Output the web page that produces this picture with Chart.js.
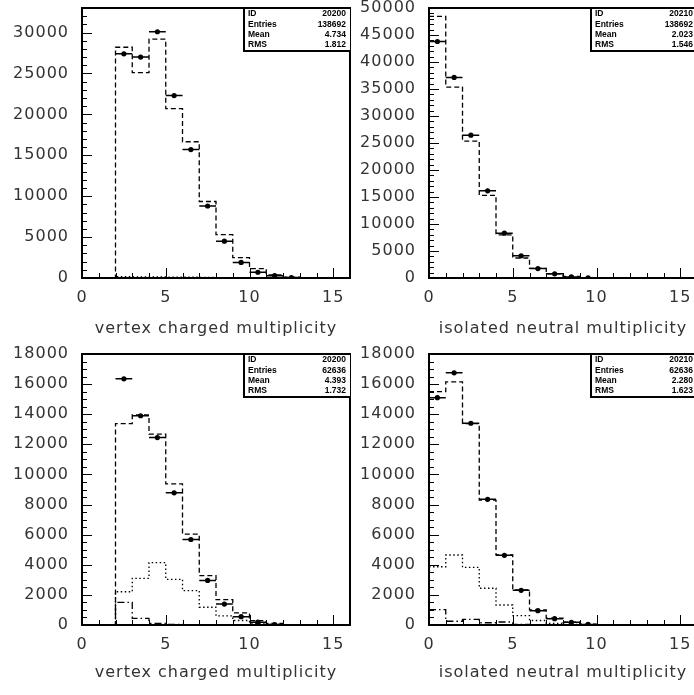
<!DOCTYPE html>
<html>
<head>
<meta charset="utf-8">
<script src="https://cdn.jsdelivr.net/npm/chart.js@4.4.1/dist/chart.umd.min.js"></script>
<style>
  html, body { margin: 0; padding: 0; background: #fff; overflow: hidden; }
  #wrap { position: relative; width: 694px; height: 695px; overflow: hidden; background: #fff; }
  canvas { position: absolute; }
</style>
</head>
<body>
<div id="wrap">
  <canvas id="tl" width="354" height="346" style="left:0;top:0"></canvas>
  <canvas id="tr" width="354" height="346" style="left:347px;top:0"></canvas>
  <canvas id="bl" width="354" height="349" style="left:0;top:346px"></canvas>
  <canvas id="br" width="354" height="349" style="left:347px;top:346px"></canvas>
</div>
<script>
// bin lower edges (bin width 1)
const binLow = [0, 1, 2, 3, 4, 5, 6, 7, 8, 9, 10, 11, 12, 13, 14, 15];
const xTicks = [0, 5, 10, 15];
const statLabels = ['ID', 'Entries', 'Mean', 'RMS'];

// top left: vertex charged multiplicity
const tlData = [0, 0, 27400, 27000, 30100, 22300, 15700, 8800, 4500, 1900, 700, 280, 60, 0, 0, 0];
const tlMC   = [0, 0, 28200, 25100, 29200, 20700, 16650, 9350, 5300, 2500, 1150, 370, 90, 20, 0, 0];
const tlBkg1 = [0, 0, 150, 140, 130, 110, 90, 60, 40, 20, 0, 0, 0, 0, 0, 0];
const tlTicks = [0, 5000, 10000, 15000, 20000, 25000, 30000];
const tlStats = ['20200', '138692', '4.734', '1.812'];

// top right: isolated neutral multiplicity
const trData = [43800, 37150, 26450, 16150, 8300, 4100, 1750, 780, 200, 50, 0, 0, 0, 0, 0, 0];
const trMC   = [48450, 35350, 25350, 15300, 8000, 3700, 1800, 780, 280, 60, 0, 0, 0, 0, 0, 0];
const trTicks = [0, 5000, 10000, 15000, 20000, 25000, 30000, 35000, 40000, 45000, 50000];
const trStats = ['20210', '138692', '2.023', '1.546'];

// bottom left: vertex charged multiplicity
const blData = [0, 0, 16350, 13900, 12450, 8780, 5680, 2960, 1390, 550, 190, 30, 0, 0, 0, 0];
const blMC   = [0, 0, 13370, 13950, 12680, 9380, 6030, 3280, 1680, 800, 290, 100, 20, 0, 0, 0];
const blBkg1 = [0, 0, 2210, 3100, 4140, 3030, 2280, 1180, 600, 300, 120, 40, 0, 0, 0, 0];
const blBkg2 = [0, 0, 1500, 445, 110, 40, 20, 0, 0, 0, 0, 0, 0, 0, 0, 0];
const bottomTicks = [0, 2000, 4000, 6000, 8000, 10000, 12000, 14000, 16000, 18000];
const blStats = ['20200', '62636', '4.393', '1.732'];

// bottom right: isolated neutral multiplicity
const brData = [15100, 16750, 13400, 8350, 4630, 2300, 950, 420, 180, 40, 0, 0, 0, 0, 0, 0];
const brMC   = [15500, 16150, 13380, 8300, 4650, 2330, 1000, 450, 190, 60, 20, 0, 0, 0, 0, 0];
const brBkg1 = [3870, 4650, 3830, 2440, 1330, 620, 300, 110, 40, 0, 0, 0, 0, 0, 0, 0];
const brBkg2 = [1020, 250, 370, 150, 200, 40, 20, 0, 0, 0, 0, 0, 0, 0, 0, 0];
const brStats = ['20210', '62636', '2.280', '1.623'];

const FONT = '"DejaVu Sans", sans-serif';
const INK = '#333';
const panels = {};

function stepPoints(vals) {
    const pts = vals.map((v, i) => ({ x: binLow[i], y: v }));
    pts.push({ x: binLow[vals.length - 1] + 1, y: vals[vals.length - 1] });
    return pts;
}

function histLine(vals, dash) {
    return {
        type: 'line',
        data: stepPoints(vals),
        stepped: true,
        borderColor: '#000',
        borderWidth: 1.3,
        borderDash: dash,
        pointRadius: 0,
        fill: false
    };
}

function dataSets(vals) {
    const bars = [];
    const dots = [];
    vals.forEach((v, i) => {
        if (v <= 0) return;
        bars.push({ x: binLow[i], y: v }, { x: binLow[i] + 1, y: v }, { x: binLow[i] + 0.5, y: null });
        dots.push({ x: binLow[i] + 0.5, y: v });
    });
    return [
        { type: 'scatter', data: dots, pointRadius: 2.6, pointBackgroundColor: '#000', pointBorderWidth: 0, showLine: false },
        { type: 'line', data: bars, borderColor: '#000', borderWidth: 1.5, pointRadius: 0, spanGaps: false }
    ];
}

// wider letter spacing, closer to the HIGZ font
const spacing = {
    id: 'spacing',
    beforeDraw(chart) { chart.ctx.letterSpacing = '1px'; }
};

// frame, inward ticks and the statistics box, HBOOK style
const hbookFrame = {
    id: 'hbookFrame',
    afterDraw(chart) {
        const cfg = panels[chart.canvas.id];
        const { ctx, chartArea: a } = chart;
        const x = chart.scales.x, y = chart.scales.y;
        ctx.save();
        ctx.setLineDash([]);
        ctx.letterSpacing = '0px';
        ctx.strokeStyle = '#000';
        ctx.lineWidth = 1;
        ctx.beginPath();
        for (let v = 1; v < 16; v++) {
            const px = Math.round(x.getPixelForValue(v)) + 0.5;
            const len = v % 5 === 0 ? 10 : 5;
            ctx.moveTo(px, a.bottom);
            ctx.lineTo(px, a.bottom - len);
        }
        const nMinor = Math.round(cfg.ymax / cfg.minor);
        const perMajor = Math.round(cfg.step / cfg.minor);
        for (let k = 1; k < nMinor; k++) {
            const py = Math.round(y.getPixelForValue(k * cfg.minor)) + 0.5;
            const len = k % perMajor === 0 ? 10 : 5;
            ctx.moveTo(a.left, py);
            ctx.lineTo(a.left + len, py);
        }
        ctx.stroke();

        ctx.lineWidth = 2;
        ctx.strokeRect(a.left, a.top, a.right - a.left, a.bottom - a.top);

        // statistics box
        const bw = 107, bh = 42;
        const bx = a.right - bw, by = a.top;
        ctx.fillStyle = '#fff';
        ctx.fillRect(bx, by, bw, bh);
        ctx.lineWidth = 1;
        ctx.strokeRect(bx + 0.5, by + 0.5, bw, bh);
        ctx.lineWidth = 2;
        ctx.beginPath();
        ctx.moveTo(bx + 1, by);
        ctx.lineTo(bx + 1, by + bh + 1);
        ctx.lineTo(a.right, by + bh + 1);
        ctx.stroke();
        ctx.fillStyle = '#000';
        ctx.font = 'bold 8.5px "Liberation Sans", Arial, sans-serif';
        ctx.textBaseline = 'middle';
        statLabels.forEach((lab, i) => {
            const ty = by + 6 + i * 10.3;
            ctx.textAlign = 'left';
            ctx.fillText(lab, bx + 5, ty);
            ctx.textAlign = 'right';
            ctx.fillText(cfg.stats[i], a.right - 4, ty);
        });
        ctx.restore();
    }
};

function makePanel(id, cfg) {
    panels[id] = cfg;
    const datasets = [].concat(
        dataSets(cfg.data),
        [histLine(cfg.mc, [5, 3])],
        cfg.bkg1 ? [histLine(cfg.bkg1, [1.5, 2.5])] : [],
        cfg.bkg2 ? [histLine(cfg.bkg2, [7, 3, 1.5, 3])] : []
    );
    return new Chart(document.getElementById(id), {
        type: 'line',
        data: { datasets: datasets },
        plugins: [spacing, hbookFrame],
        options: {
            responsive: false,
            animation: false,
            events: [],
            layout: { padding: { top: 8, right: 2, left: 0, bottom: 0 } },
            plugins: {
                legend: { display: false },
                tooltip: { enabled: false }
            },
            scales: {
                x: {
                    type: 'linear',
                    min: 0,
                    max: 16,
                    afterBuildTicks: s => { s.ticks = xTicks.map(v => ({ value: v })); },
                    afterFit: s => { s.height = cfg.xh; s.paddingLeft = 0; s.paddingRight = 0; },
                    grid: { display: false, drawTicks: false },
                    border: { display: false },
                    ticks: {
                        autoSkip: false,
                        maxRotation: 0,
                        padding: 10,
                        color: INK,
                        font: { family: FONT, size: 16 },
                        callback: v => String(v)
                    },
                    title: {
                        display: true,
                        text: cfg.title,
                        color: INK,
                        font: { family: FONT, size: 16 },
                        padding: { top: 0, bottom: cfg.titlePad }
                    }
                },
                y: {
                    type: 'linear',
                    min: 0,
                    max: cfg.ymax,
                    afterBuildTicks: s => { s.ticks = cfg.yticks.map(v => ({ value: v })); },
                    afterFit: s => { s.width = 82; s.paddingTop = 0; s.paddingBottom = 0; },
                    grid: { display: false, drawTicks: false },
                    border: { display: false },
                    ticks: {
                        autoSkip: false,
                        padding: 13,
                        color: INK,
                        font: { family: FONT, size: 16 },
                        callback: v => String(v)
                    }
                }
            }
        }
    });
}

makePanel('tl', { data: tlData, mc: tlMC, bkg1: tlBkg1, stats: tlStats, ymax: 33000, yticks: tlTicks, step: 5000, minor: 1000,
    title: 'vertex charged multiplicity', xh: 68, titlePad: 8 });
makePanel('tr', { data: trData, mc: trMC, stats: trStats, ymax: 50000, yticks: trTicks, step: 5000, minor: 1000,
    title: 'isolated neutral multiplicity', xh: 68, titlePad: 8 });
makePanel('bl', { data: blData, mc: blMC, bkg1: blBkg1, bkg2: blBkg2, stats: blStats, ymax: 18000, yticks: bottomTicks, step: 2000, minor: 500,
    title: 'vertex charged multiplicity', xh: 70, titlePad: 13 });
makePanel('br', { data: brData, mc: brMC, bkg1: brBkg1, bkg2: brBkg2, stats: brStats, ymax: 18000, yticks: bottomTicks, step: 2000, minor: 500,
    title: 'isolated neutral multiplicity', xh: 70, titlePad: 13 });
</script>
</body>
</html>
